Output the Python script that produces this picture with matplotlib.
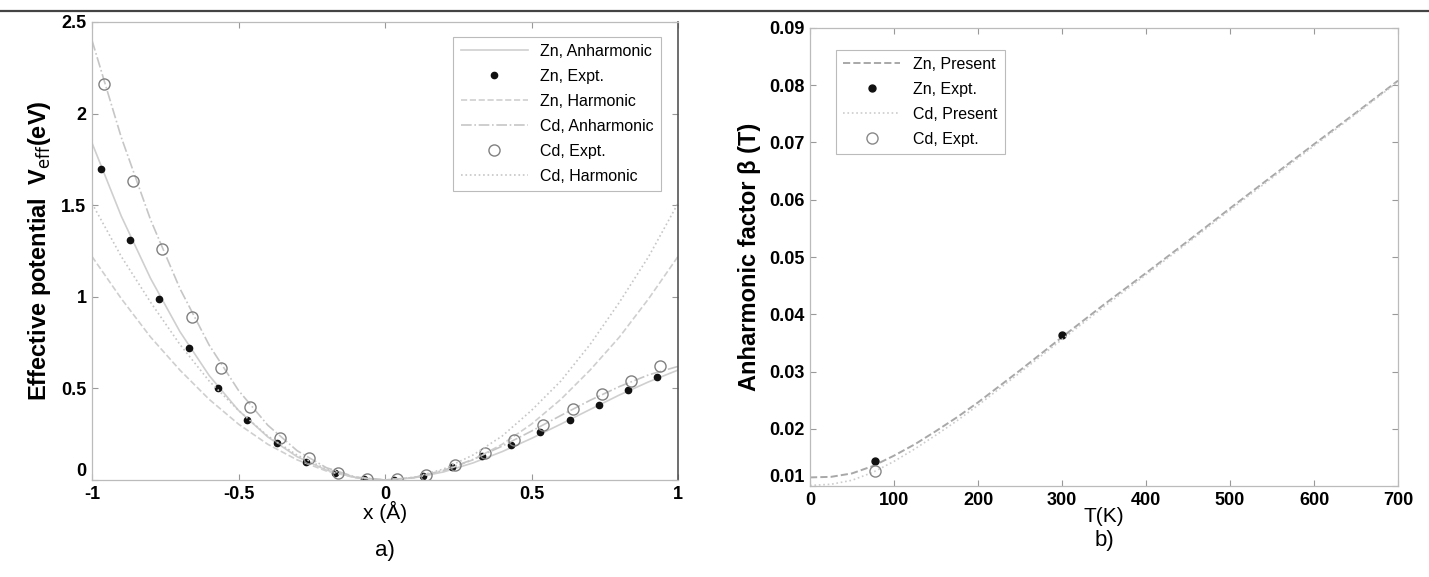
import matplotlib
matplotlib.use("Agg")
import matplotlib.pyplot as plt
from matplotlib.lines import Line2D

plt.rcParams['font.family'] = ['Liberation Sans', 'DejaVu Sans']

# ---------------- Panel a data ----------------
x_line = [-1.0, -0.9, -0.8, -0.7, -0.6, -0.5, -0.4, -0.3, -0.2, -0.1, 0.0,
          0.1, 0.2, 0.3, 0.4, 0.5, 0.6, 0.7, 0.8, 0.9, 1.0]
zn_anharm = [1.84, 1.44, 1.10, 0.81, 0.57, 0.38, 0.235, 0.127, 0.054, 0.013, 0.0,
             0.012, 0.044, 0.093, 0.155, 0.227, 0.305, 0.385, 0.464, 0.536, 0.60]
zn_harm = [1.22, 0.99, 0.78, 0.60, 0.44, 0.305, 0.195, 0.11, 0.049, 0.012, 0.0,
           0.012, 0.049, 0.11, 0.195, 0.305, 0.44, 0.60, 0.78, 0.99, 1.22]
cd_anharm = [2.40, 1.87, 1.42, 1.045, 0.736, 0.489, 0.299, 0.160, 0.067, 0.016, 0.0,
             0.014, 0.053, 0.112, 0.185, 0.267, 0.352, 0.435, 0.510, 0.574, 0.62]
cd_harm = [1.51, 1.22, 0.97, 0.74, 0.54, 0.38, 0.24, 0.136, 0.060, 0.015, 0.0,
           0.015, 0.060, 0.136, 0.24, 0.38, 0.54, 0.74, 0.97, 1.22, 1.51]

zn_expt_x = [-0.97, -0.87, -0.77, -0.67, -0.57, -0.47, -0.37, -0.27, -0.17, -0.07,
             0.03, 0.13, 0.23, 0.33, 0.43, 0.53, 0.63, 0.73, 0.83, 0.93]
zn_expt_y = [1.70, 1.31, 0.99, 0.72, 0.50, 0.33, 0.20, 0.10, 0.04, 0.005,
             0.002, 0.02, 0.07, 0.13, 0.19, 0.26, 0.33, 0.41, 0.49, 0.56]
cd_expt_x = [-0.96, -0.86, -0.76, -0.66, -0.56, -0.46, -0.36, -0.26, -0.16, -0.06,
             0.04, 0.14, 0.24, 0.34, 0.44, 0.54, 0.64, 0.74, 0.84, 0.94]
cd_expt_y = [2.16, 1.63, 1.26, 0.89, 0.61, 0.40, 0.23, 0.12, 0.04, 0.006,
             0.003, 0.03, 0.08, 0.15, 0.22, 0.30, 0.39, 0.47, 0.54, 0.62]

# ---------------- Panel b data ----------------
T_line = [0, 25, 50, 75, 100, 125, 150, 175, 200, 250, 300, 350, 400, 450, 500,
          550, 600, 650, 700]
zn_present = [0.0115, 0.0116, 0.0122, 0.0135, 0.0153, 0.0173, 0.0196, 0.0220, 0.0246,
              0.0302, 0.0360, 0.0417, 0.0472, 0.0528, 0.0585, 0.0641, 0.0697, 0.0752, 0.0808]
cd_present = [0.0101, 0.0103, 0.0110, 0.0124, 0.0143, 0.0165, 0.0189, 0.0214, 0.0241,
              0.0298, 0.0356, 0.0413, 0.0469, 0.0525, 0.0582, 0.0638, 0.0694, 0.0750, 0.0806]
zn_expt_T = [77, 300]
zn_expt_b = [0.0143, 0.0363]
cd_expt_T = [77]
cd_expt_b = [0.0127]

W, H = 1429, 577
fig = plt.figure(figsize=(W / 100, H / 100), dpi=100)

def ax_rect(l, t, r, b):
    return [l / W, 1 - b / H, (r - l) / W, (b - t) / H]

# table remnant line at top
fig.add_artist(Line2D([0, 1], [1 - 11 / H, 1 - 11 / H], color='#444444', lw=1.6))

c_line = '#cfcfcf'
c_line2 = '#c6c6c6'

# ---------------- Panel a ----------------
ax1 = fig.add_axes(ax_rect(92, 22, 678, 480))
ax1.plot(x_line, zn_anharm, color=c_line, lw=1.2, ls='-', label='Zn, Anharmonic')
ax1.plot(zn_expt_x, zn_expt_y, ls='none', marker='o', ms=4.5, color='#111111',
         label='Zn, Expt.')
ax1.plot(x_line, zn_harm, color=c_line, lw=1.2, ls='--', label='Zn, Harmonic')
ax1.plot(x_line, cd_anharm, color=c_line2, lw=1.2, ls='-.', label='Cd, Anharmonic')
ax1.plot(cd_expt_x, cd_expt_y, ls='none', marker='o', ms=8, mfc='none', mec='#808080',
         mew=1.0, label='Cd, Expt.')
ax1.plot(x_line, cd_harm, color=c_line2, lw=1.2, ls=':', label='Cd, Harmonic')
ax1.set_xlim(-1, 1)
ax1.set_ylim(0, 2.5)
ax1.set_xticks([-1, -0.5, 0, 0.5, 1])
ax1.set_xticklabels(['-1', '-0.5', '0', '0.5', '1'])
ax1.set_yticks([0, 0.5, 1, 1.5, 2, 2.5])
ax1.set_yticklabels(['0', '0.5', '1', '1.5', '2', '2.5'])
ax1.set_xlabel('x (Å)', fontsize=15, labelpad=-1)
ax1.set_ylabel(r'Effective potential  V$_{\mathrm{eff}}$(eV)', fontsize=17,
               fontweight='bold', labelpad=6)
leg1 = ax1.legend(loc='upper right', bbox_to_anchor=(0.985, 0.985), fontsize=11.5,
                  frameon=True, fancybox=False, edgecolor='#aaaaaa', handlelength=4.2,
                  borderpad=0.45, labelspacing=0.62, handletextpad=0.8)
leg1.get_frame().set_linewidth(0.8)
ax1.text(0.5, -0.153, 'a)', transform=ax1.transAxes, ha='center', va='center', fontsize=16)

# ---------------- Panel b ----------------
ax2 = fig.add_axes(ax_rect(810, 28, 1398, 486))
ax2.plot(T_line, zn_present, color='#a8a8a8', lw=1.4, ls='--', label='Zn, Present')
ax2.plot(zn_expt_T, zn_expt_b, ls='none', marker='o', ms=5, color='#111111',
         label='Zn, Expt.')
ax2.plot(T_line, cd_present, color='#cccccc', lw=1.2, ls=':', label='Cd, Present')
ax2.plot(cd_expt_T, cd_expt_b, ls='none', marker='o', ms=8, mfc='none', mec='#888888',
         mew=1.0, label='Cd, Expt.')
ax2.set_xlim(0, 700)
ax2.set_ylim(0.01, 0.09)
ax2.set_xticks([0, 100, 200, 300, 400, 500, 600, 700])
ax2.set_yticks([0.01, 0.02, 0.03, 0.04, 0.05, 0.06, 0.07, 0.08, 0.09])
ax2.set_yticklabels(['0.01', '0.02', '0.03', '0.04', '0.05', '0.06', '0.07', '0.08', '0.09'])
ax2.set_xlabel('T(K)', fontsize=15, labelpad=-1)
ax2.set_ylabel('Anharmonic factor β (T)', fontsize=17, fontweight='bold', labelpad=6)
leg2 = ax2.legend(loc='upper left', bbox_to_anchor=(0.03, 0.97), fontsize=11.5,
                  frameon=True, fancybox=False, edgecolor='#aaaaaa', handlelength=3.6,
                  borderpad=0.45, labelspacing=0.62, handletextpad=0.8)
leg2.get_frame().set_linewidth(0.8)
ax2.text(0.5, -0.118, 'b)', transform=ax2.transAxes, ha='center', va='center', fontsize=16)

for ax in (ax1, ax2):
    ax.tick_params(direction='in', top=True, right=True, length=4, width=0.8,
                   labelsize=13, colors='#999999', labelcolor='black', pad=4)
    for lab in ax.get_xticklabels() + ax.get_yticklabels():
        lab.set_fontweight('bold')
    for s in ax.spines.values():
        s.set_color('#bbbbbb')
        s.set_linewidth(0.9)
ax1.spines['right'].set_color('#555555')
ax1.spines['right'].set_linewidth(1.2)
# keep the lowest y label clear of the first x label
ax1.get_yticklabels()[0].set_verticalalignment('bottom')
ax2.get_yticklabels()[0].set_verticalalignment('bottom')

fig.savefig('out.png', dpi=100)
